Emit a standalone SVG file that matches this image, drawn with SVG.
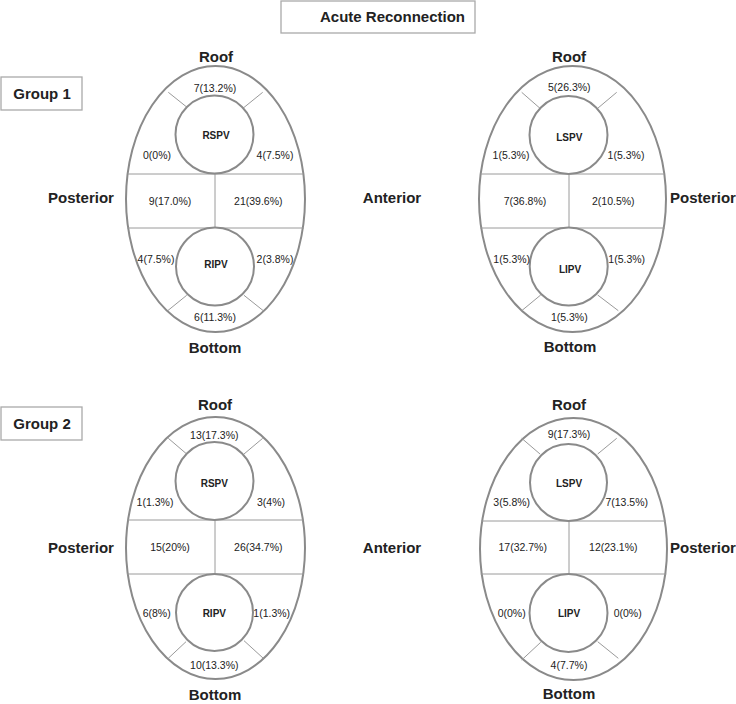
<svg xmlns="http://www.w3.org/2000/svg" width="736" height="704" viewBox="0 0 736 704">
<style>
text{font-family:"Liberation Sans",Arial,sans-serif;fill:#222;text-anchor:middle}
.h{font-size:15px;font-weight:bold}
.v{font-size:10.5px}
.pv{font-size:10px;font-weight:bold}
.box{fill:#fff;stroke:#aaa;stroke-width:1.3}
.ell{fill:#fff;stroke:#8a8a8a;stroke-width:2}
.cir{fill:#fff;stroke:#8a8a8a;stroke-width:2}
.ln{stroke:#9a9a9a;stroke-width:1;fill:none}
</style>
<rect width="736" height="704" fill="#fff"/>
<g id="title"><rect class="box" x="281" y="1" width="194" height="32"/><text class="h" x="392.5" y="22.4">Acute Reconnection</text></g>
<g id="group1"><rect class="box" x="1" y="77" width="81" height="33"/><text class="h" x="42" y="99.4">Group 1</text></g>
<g id="group2"><rect class="box" x="1" y="407" width="81" height="33"/><text class="h" x="42" y="429.4">Group 2</text></g>
<g id="labels">
<text class="h" x="216" y="62.4">Roof</text>
<text class="h" x="569" y="62.4">Roof</text>
<text class="h" x="215" y="353.4">Bottom</text>
<text class="h" x="570" y="352.4">Bottom</text>
<text class="h" x="81" y="203.4">Posterior</text>
<text class="h" x="392" y="203.4">Anterior</text>
<text class="h" x="703" y="203.4">Posterior</text>
<text class="h" x="215" y="410.4">Roof</text>
<text class="h" x="569" y="410.4">Roof</text>
<text class="h" x="215" y="700.4">Bottom</text>
<text class="h" x="569" y="699.4">Bottom</text>
<text class="h" x="81" y="553.4">Posterior</text>
<text class="h" x="392" y="553.4">Anterior</text>
<text class="h" x="703" y="553.4">Posterior</text>
</g>
<g id="g1-right-veins">
<ellipse class="ell" cx="215.5" cy="199" rx="89.5" ry="133"/>
<g class="ln">
<line x1="127.6" y1="174" x2="303.4" y2="174"/>
<line x1="127.2" y1="228" x2="303.8" y2="228"/>
<line x1="215" y1="174" x2="215" y2="228"/>
<line x1="168.3" y1="92.3" x2="188.3" y2="108.3"/>
<line x1="262.7" y1="92.3" x2="241.7" y2="109.3"/>
<line x1="167.7" y1="310.7" x2="186.7" y2="295.3"/>
<line x1="263.3" y1="310.7" x2="244" y2="295.3"/>
</g>
<g id="g1-rspv"><circle class="cir" cx="214.5" cy="134.5" r="39"/><text class="pv" x="216" y="138.6">RSPV</text></g>
<g id="g1-ripv"><circle class="cir" cx="215" cy="266.5" r="39"/><text class="pv" x="216" y="267.6">RIPV</text></g>
<g class="v">
<text class="v" x="215" y="91.7">7(13.2%)</text>
<text class="v" x="157" y="158.7">0(0%)</text>
<text class="v" x="275" y="158.7">4(7.5%)</text>
<text class="v" x="170" y="205.4">9(17.0%)</text>
<text class="v" x="258.3" y="205.4">21(39.6%)</text>
<text class="v" x="156" y="263">4(7.5%)</text>
<text class="v" x="275" y="263">2(3.8%)</text>
<text class="v" x="215" y="321">6(11.3%)</text>
</g>
</g>
<g id="g1-left-veins">
<ellipse class="ell" cx="572.5" cy="199" rx="93.5" ry="133"/>
<g class="ln">
<line x1="480.7" y1="174" x2="664.3" y2="174"/>
<line x1="480.2" y1="228" x2="664.8" y2="228"/>
<line x1="569" y1="174" x2="569" y2="228"/>
<line x1="521.7" y1="92.3" x2="540" y2="108.3"/>
<line x1="616.7" y1="92.3" x2="597.7" y2="108.3"/>
<line x1="521.7" y1="310.7" x2="540.7" y2="295"/>
<line x1="618.3" y1="310.7" x2="597.7" y2="295"/>
</g>
<g id="g1-lspv"><circle class="cir" cx="568.5" cy="135" r="39"/><text class="pv" x="569.3" y="140.9">LSPV</text></g>
<g id="g1-lipv"><circle class="cir" cx="568.7" cy="266.5" r="39"/><text class="pv" x="570" y="272.6">LIPV</text></g>
<text class="v" x="569.3" y="91.4">5(26.3%)</text>
<text class="v" x="511" y="158.7">1(5.3%)</text>
<text class="v" x="626" y="158.7">1(5.3%)</text>
<text class="v" x="525" y="205.4">7(36.8%)</text>
<text class="v" x="613.3" y="205.4">2(10.5%)</text>
<text class="v" x="511.7" y="263">1(5.3%)</text>
<text class="v" x="626.7" y="263">1(5.3%)</text>
<text class="v" x="569.3" y="321">1(5.3%)</text>
</g>
<g id="g2-right-veins">
<ellipse class="ell" cx="215.5" cy="548" rx="89.5" ry="131"/>
<g class="ln">
<line x1="127.4" y1="520" x2="303.6" y2="520"/>
<line x1="127.1" y1="574" x2="303.9" y2="574"/>
<line x1="215" y1="520" x2="215" y2="574"/>
<line x1="168.3" y1="438.3" x2="186.7" y2="454"/>
<line x1="262.7" y1="438.3" x2="244" y2="454"/>
<line x1="168.3" y1="658.3" x2="186" y2="641.7"/>
<line x1="263.3" y1="658.3" x2="244" y2="640.7"/>
</g>
<g id="g2-rspv"><circle class="cir" cx="214.5" cy="481" r="39"/><text class="pv" x="214.3" y="486.9">RSPV</text></g>
<g id="g2-ripv"><circle class="cir" cx="214.5" cy="612.5" r="38.5"/><text class="pv" x="214.3" y="616.9">RIPV</text></g>
<text class="v" x="214.3" y="438.7">13(17.3%)</text>
<text class="v" x="155" y="506">1(1.3%)</text>
<text class="v" x="271" y="506">3(4%)</text>
<text class="v" x="170" y="551.4">15(20%)</text>
<text class="v" x="258.3" y="551.4">26(34.7%)</text>
<text class="v" x="156.7" y="617">6(8%)</text>
<text class="v" x="271.7" y="617">1(1.3%)</text>
<text class="v" x="214.3" y="668.7">10(13.3%)</text>
</g>
<g id="g2-left-veins">
<ellipse class="ell" cx="573.5" cy="549" rx="93.5" ry="131"/>
<g class="ln">
<line x1="481.2" y1="521" x2="665.8" y2="521"/>
<line x1="480.8" y1="574" x2="666.2" y2="574"/>
<line x1="569" y1="521" x2="569" y2="574"/>
<line x1="521.7" y1="438.3" x2="540" y2="454"/>
<line x1="616.7" y1="438.3" x2="597.7" y2="454"/>
<line x1="521.7" y1="660" x2="540.7" y2="642.3"/>
<line x1="618.3" y1="658.3" x2="597.7" y2="641.7"/>
</g>
<g id="g2-lspv"><circle class="cir" cx="568.5" cy="482.5" r="38.5"/><text class="pv" x="569" y="486.9">LSPV</text></g>
<g id="g2-lipv"><circle class="cir" cx="568.5" cy="613" r="39"/><text class="pv" x="569" y="616.9">LIPV</text></g>
<text class="v" x="569" y="438">9(17.3%)</text>
<text class="v" x="511.7" y="506">3(5.8%)</text>
<text class="v" x="626.7" y="506">7(13.5%)</text>
<text class="v" x="522.7" y="551.4">17(32.7%)</text>
<text class="v" x="613.3" y="551.4">12(23.1%)</text>
<text class="v" x="511.7" y="617">0(0%)</text>
<text class="v" x="627.7" y="617">0(0%)</text>
<text class="v" x="569" y="668.7">4(7.7%)</text>
</g>
</svg>
